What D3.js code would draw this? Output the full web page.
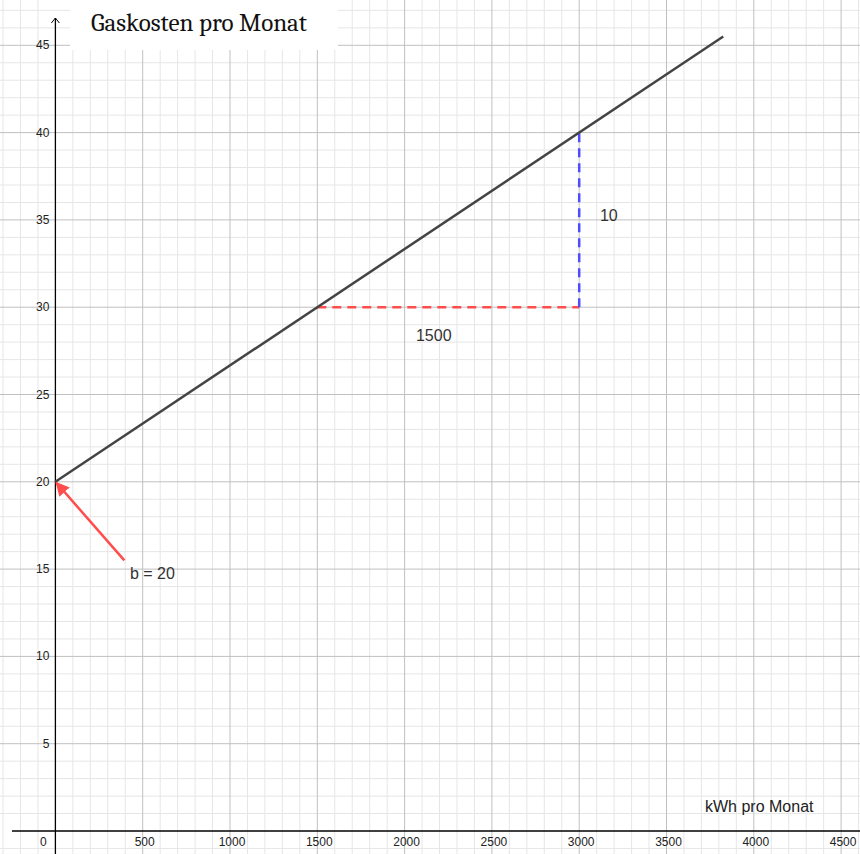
<!DOCTYPE html>
<html>
<head>
<meta charset="utf-8">
<script src="https://cdn.jsdelivr.net/npm/d3@7"></script>
<style>
  body { margin: 0; background: #fff; }
  svg { display: block; }
</style>
</head>
<body>
<svg width="860" height="854"></svg>
<script>
// data
var title = "Gaskosten pro Monat",
    xTitle = "kWh pro Monat";
var xTicks = [0, 500, 1000, 1500, 2000, 2500, 3000, 3500, 4000, 4500],
    yTicks = [5, 10, 15, 20, 25, 30, 35, 40, 45];
var costX = [0, 3825],
    costY = [20, 45.5];
var runX = [1500, 3000], runY = [30, 30],       // horizontal step
    riseX = [3000, 3000], riseY = [30, 40];     // vertical step
var arrowFrom = [395, 15.5], arrowTo = [0, 20];
var notes = [
  {text: "1500", x: 2065, y: 28.06},
  {text: "10", x: 3119, y: 34.93},
  {text: "b = 20", x: 427, y: 14.42}
];

var svg = d3.select("svg"),
    width = +svg.attr("width"),
    height = +svg.attr("height");

var x = d3.scaleLinear().domain([0, 500]).range([55.4, 142.7]);
var y = d3.scaleLinear().domain([0, 5]).range([831, 743.7]);
var xMin = x.invert(0), xMax = x.invert(width),
    yMin = y.invert(height), yMax = y.invert(0);

// grid
var minorX = d3.range(Math.ceil(xMin / 100) * 100, xMax, 100),
    minorY = d3.range(Math.ceil(yMin), yMax, 1);
var grid = svg.append("g");
grid.selectAll(".mx").data(minorX.filter(function(d) { return d % 500 !== 0; }))
  .enter().append("line")
    .attr("x1", x).attr("x2", x).attr("y1", 0).attr("y2", height)
    .attr("stroke", "#e6e6e6").attr("stroke-width", 1);
grid.selectAll(".my").data(minorY.filter(function(d) { return d % 5 !== 0; }))
  .enter().append("line")
    .attr("y1", y).attr("y2", y).attr("x1", 0).attr("x2", width)
    .attr("stroke", "#e6e6e6").attr("stroke-width", 1);
grid.selectAll(".Mx").data(minorX.filter(function(d) { return d % 500 === 0 && d !== 0; }))
  .enter().append("line")
    .attr("x1", x).attr("x2", x).attr("y1", 0).attr("y2", height)
    .attr("stroke", "#c0c0c0").attr("stroke-width", 1);
grid.selectAll(".My").data(minorY.filter(function(d) { return d % 5 === 0 && d !== 0; }))
  .enter().append("line")
    .attr("y1", y).attr("y2", y).attr("x1", 0).attr("x2", width)
    .attr("stroke", "#c0c0c0").attr("stroke-width", 1);

// title box hides the grid behind it
svg.append("rect").attr("x", 70).attr("y", 0).attr("width", 268).attr("height", 50).attr("fill", "#fff");
svg.append("text").attr("x", 91).attr("y", 31)
  .attr("font-family", "Caladea, 'Liberation Serif', 'DejaVu Serif', serif")
  .attr("font-size", 25).attr("fill", "#111").text(title);

// axes
svg.append("line").attr("x1", 12).attr("x2", width).attr("y1", y(0)).attr("y2", y(0))
  .attr("stroke", "#000").attr("stroke-width", 1.3);
svg.append("line").attr("x1", x(0)).attr("x2", x(0)).attr("y1", 18).attr("y2", height)
  .attr("stroke", "#000").attr("stroke-width", 1.3);
svg.append("path").attr("d", "M" + (x(0) - 4) + ",23L" + x(0) + ",18L" + (x(0) + 4) + ",23")
  .attr("fill", "none").attr("stroke", "#000").attr("stroke-width", 1);

var tickFont = "'Liberation Sans', Arial, sans-serif";
svg.selectAll(".xt").data(xTicks).enter().append("text")
    .attr("x", function(d) { return d === 0 ? x(0) - 12 : x(d) + 2; })
    .attr("y", y(0) + 15)
    .attr("text-anchor", "middle")
    .attr("font-family", tickFont).attr("font-size", 12).attr("fill", "#222")
    .text(function(d) { return d; });
svg.selectAll(".yt").data(yTicks).enter().append("text")
    .attr("x", x(0) - 6).attr("y", function(d) { return y(d) + 4; })
    .attr("text-anchor", "end")
    .attr("font-family", tickFont).attr("font-size", 12).attr("fill", "#222")
    .text(function(d) { return d; });

svg.append("text").attr("x", 705).attr("y", 812)
  .attr("font-family", tickFont).attr("font-size", 16).attr("fill", "#222").text(xTitle);

// step triangle
function seg(xs, ys, color) {
  svg.append("line")
    .attr("x1", x(xs[0])).attr("y1", y(ys[0])).attr("x2", x(xs[1])).attr("y2", y(ys[1]))
    .attr("stroke", color).attr("stroke-width", 2.5).attr("stroke-dasharray", "9,6");
}
seg(runX, runY, "#ff4d4d");
seg(riseX, riseY, "#4d4dff");

// cost line
svg.append("path")
  .datum(d3.zip(costX, costY))
  .attr("d", d3.line().x(function(d) { return x(d[0]); }).y(function(d) { return y(d[1]); }))
  .attr("fill", "none").attr("stroke", "#444").attr("stroke-width", 2.5);

// arrow
svg.append("defs").append("marker")
    .attr("id", "head").attr("viewBox", "0 0 10 10").attr("refX", 9).attr("refY", 5)
    .attr("markerWidth", 5.5).attr("markerHeight", 5.5).attr("orient", "auto")
  .append("path").attr("d", "M0,0L10,5L0,10z").attr("fill", "#ff4d4d");
svg.append("line")
  .attr("x1", x(arrowFrom[0])).attr("y1", y(arrowFrom[1]))
  .attr("x2", x(arrowTo[0]) + 1).attr("y2", y(arrowTo[1]) + 1)
  .attr("stroke", "#ff4d4d").attr("stroke-width", 2.5).attr("marker-end", "url(#head)");

svg.selectAll(".note").data(notes).enter().append("text")
    .attr("x", function(d) { return x(d.x); }).attr("y", function(d) { return y(d.y); })
    .attr("font-family", tickFont).attr("font-size", 16).attr("fill", "#333")
    .text(function(d) { return d.text; });
</script>
</body>
</html>
